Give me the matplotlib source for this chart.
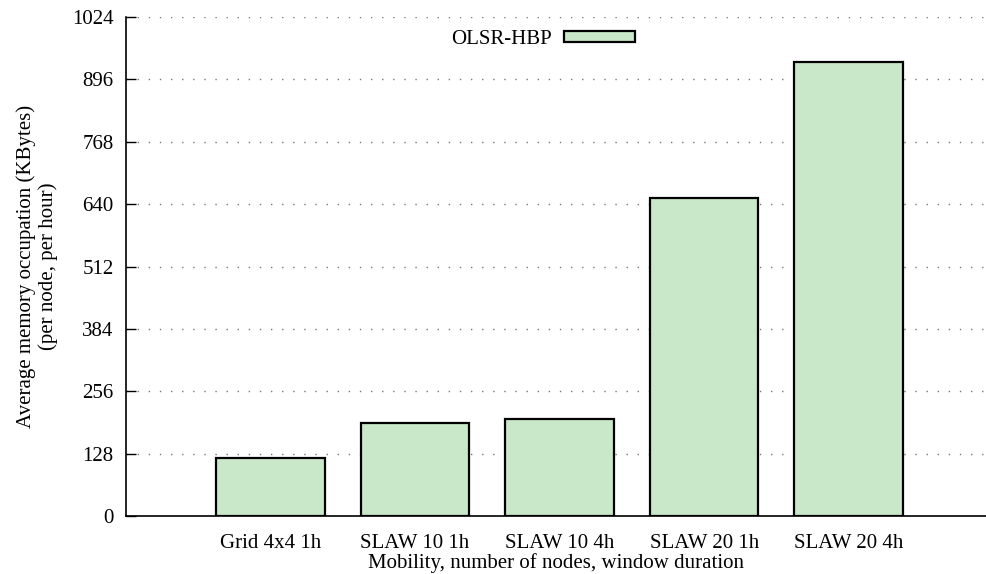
import numpy as np
import matplotlib.pyplot as plt

# valores (KBytes por nodo y por hora)
escenarios = ["Grid 4x4 1h", "SLAW 10 1h", "SLAW 10 4h", "SLAW 20 1h", "SLAW 20 4h"]
memoria_kb = [119, 191, 199, 652, 932]
y_ticks = [0, 128, 256, 384, 512, 640, 768, 896, 1024]

plt.rcParams['font.family'] = ['Liberation Serif', 'DejaVu Serif']

fig = plt.figure(figsize=(9.86, 5.74), dpi=100)
ax = fig.add_axes([126 / 986, 1 - 516 / 574, 1 - 126 / 986, 499 / 574])

x = np.arange(len(escenarios))
ax.bar(x, memoria_kb, width=0.75, color='#c9e7c9', edgecolor='black',
       linewidth=1.6, label='OLSR-HBP', zorder=3)

ax.set_xlim(-1, 4.95)
ax.set_ylim(0, 1024)
ax.set_yticks(y_ticks)
ax.set_xticks(x)
ax.set_xticklabels(escenarios)
ax.tick_params(axis='y', direction='in', length=7, width=1, labelsize=15, pad=9)
ax.tick_params(axis='x', length=0, labelsize=15, pad=13)

ax.grid(axis='y', linestyle=(0, (1, 7)), color='#777777', linewidth=1, zorder=0)
for lado in ['top', 'right']:
    ax.spines[lado].set_visible(False)
ax.spines['left'].set_linewidth(1.2)
ax.spines['bottom'].set_linewidth(1.2)

ax.set_ylabel('Average memory occupation (KBytes)\n(per node, per hour)',
              fontsize=15, labelpad=10, linespacing=1.15)
ax.set_xlabel('Mobility, number of nodes, window duration', fontsize=15, labelpad=0)

ax.legend(loc='center', bbox_to_anchor=(0.5 - 0.015, 0.955), frameon=False,
          markerfirst=False, fontsize=15, handlelength=3.4, handleheight=0.5,
          borderpad=0, handletextpad=0.6)

fig.savefig('out.png', dpi=100)
